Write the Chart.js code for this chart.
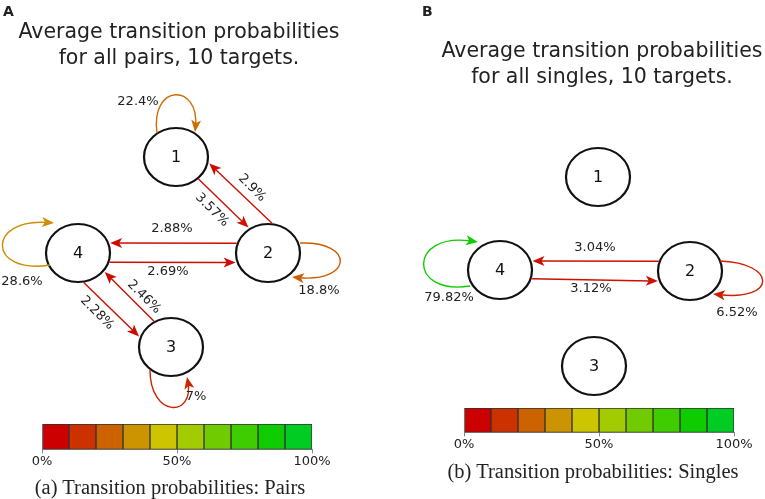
<!DOCTYPE html>
<html>
<head>
<meta charset="utf-8">
<script src="https://cdn.jsdelivr.net/npm/chart.js@4.4.1/dist/chart.umd.min.js"></script>
<style>
body { margin:0; background:#fff; }
#wrap { position:relative; width:765px; height:499px; overflow:hidden; font-family:"DejaVu Sans", sans-serif; color:#222; }
canvas, .txt { position:absolute; }
.tag { font-weight:bold; font-size:14px; line-height:14px; }
.title { font-size:20.5px; line-height:26px; text-align:center; }
.cap { font-family:"Liberation Serif", "DejaVu Serif", serif; font-size:20.5px; line-height:22px; text-align:center; }
</style>
</head>
<body>
<div id="wrap">
  <canvas id="graph" width="765" height="499" style="left:0;top:0"></canvas>
  <canvas id="barA" width="320" height="45" style="left:17px;top:424px"></canvas>
  <canvas id="barB" width="320" height="44" style="left:439px;top:408px"></canvas>
  <div class="txt tag" style="left:3px;top:4px">A</div>
  <div class="txt tag" style="left:422px;top:4px">B</div>
  <div class="txt title" style="left:0;top:18px;width:358px">Average transition probabilities<br>for all pairs, 10 targets.</div>
  <div class="txt title" style="left:422px;top:37px;width:360px">Average transition probabilities<br>for all singles, 10 targets.</div>
  <div class="txt cap" style="left:0;top:476px;width:340px">(a) Transition probabilities: Pairs</div>
  <div class="txt cap" style="left:423px;top:460px;width:340px">(b) Transition probabilities: Singles</div>
</div>
<script>
document.addEventListener('DOMContentLoaded', ()=> {

    // states
    var nodeNames = ['1', '2', '3', '4'];

    // pairs: transition from -> to, probability in %
    var pairsFrom = [1, 2, 1, 2, 4, 4, 2, 4, 3, 3];
    var pairsTo   = [1, 1, 2, 4, 2, 4, 2, 3, 4, 3];
    var pairsProb = [22.4, 2.9, 3.57, 2.88, 2.69, 28.6, 18.8, 2.28, 2.46, 7];

    // singles
    var singlesFrom = [2, 4, 4, 2];
    var singlesTo   = [4, 2, 4, 2];
    var singlesProb = [3.04, 3.12, 79.82, 6.52];

    // colour scale bins and ticks
    var binEdges = [0, 10, 20, 30, 40, 50, 60, 70, 80, 90, 100];
    var scaleTicks = [0, 50, 100];

    // layout: node centres in graph units (1 unit = 1px)
    var pairsNodes   = [[176,157],[268,253],[171,347],[78,253]];
    var singlesNodes = [[598,177],[690,271],[594,366],[500,270]];

    // edge geometry, same order as the data arrays
    // a: attach angles (deg) on source/target, loop: offsets of bezier points from node, lab: x, y, rotation
    var pairsGeom = [
        {loop:[[-19,-24],[-26,-74],[24,-74],[19,-25]], lab:[138,102,0]},
        {a:[277,12], lab:[252,188,45]},
        {a:[47,235], lab:[212,210,45]},
        {a:[199,341], lab:[172,229,0]},
        {a:[18,162], lab:[168,272,0]},
        {loop:[[-28,12],[-91,22],[-91,-35],[-24,-30]], lab:[22,282,0]},
        {loop:[[32,-10],[87,-12],[85,30],[24,24]], lab:[319,291,0]},
        {a:[80,200], lab:[97,313,45]},
        {a:[239,38], lab:[144,297,45]},
        {loop:[[-21,23],[-21,71],[24,71],[16,30]], lab:[196,397,0]}
    ];
    var singlesGeom = [
        {a:[199,343], lab:[595,248,0]},
        {a:[17,161], lab:[591,289,0]},
        {loop:[[-30,16],[-92,26],[-92,-38],[-22,-28]], lab:[449,298,0]},
        {loop:[[30,-10],[87,-8],[87,30],[23,23]], lab:[737,313,0]}
    ];

    // red -> green colour map (hsv, v = 0.8)
    function probColor(v){
        var h = 1.45 * v, c = 204, r, g, b = 0;
        if (h <= 60) { r = c; g = c * h / 60; }
        else if (h <= 120) { r = c * (120 - h) / 60; g = c; }
        else { r = 0; g = c; b = c * (h - 120) / 60; }
        return 'rgb(' + Math.round(r) + ',' + Math.round(g) + ',' + Math.round(b) + ')';
    }

    var RX = 32, RY = 29;

    // node marker: slightly wide ellipse
    function ellipseMarker(){
        var c = document.createElement('canvas');
        c.width = 70; c.height = 64;
        var g = c.getContext('2d');
        g.beginPath();
        g.ellipse(35, 32, RX, RY, 0, 0, 2 * Math.PI);
        g.fillStyle = '#fff';
        g.fill();
        g.lineWidth = 2.2;
        g.strokeStyle = '#111';
        g.stroke();
        return c;
    }

    function arrowHead(ctx, tip, dx, dy, color){
        var len = Math.hypot(dx, dy), ux = dx / len, uy = dy / len;
        var L = 12, W = 5;
        var bx = tip.x - ux * L, by = tip.y - uy * L;
        ctx.fillStyle = color;
        ctx.beginPath();
        ctx.moveTo(tip.x, tip.y);
        ctx.lineTo(bx - uy * W, by + ux * W);
        ctx.lineTo(tip.x - ux * L * 0.75, tip.y - uy * L * 0.75);
        ctx.lineTo(bx + uy * W, by - ux * W);
        ctx.closePath();
        ctx.fill();
    }

    function drawEdges(chart, dsIndex, from, to, prob, geom){
        var ctx = chart.ctx;
        var xs = chart.scales.x, ys = chart.scales.y;
        var pts = chart.getDatasetMeta(dsIndex).data;
        for (var i = 0; i < prob.length; i++) {
            var col = probColor(prob[i]);
            var s = pts[from[i] - 1], t = pts[to[i] - 1], gm = geom[i];
            ctx.strokeStyle = col;
            ctx.lineWidth = 1.4;
            if (gm.loop) {
                var p = gm.loop.map(function(o){ return {x: s.x + o[0], y: s.y + o[1]}; });
                ctx.beginPath();
                ctx.moveTo(p[0].x, p[0].y);
                ctx.bezierCurveTo(p[1].x, p[1].y, p[2].x, p[2].y, p[3].x - (p[3].x - p[2].x) * 0.1, p[3].y - (p[3].y - p[2].y) * 0.1);
                ctx.stroke();
                arrowHead(ctx, p[3], p[3].x - p[2].x, p[3].y - p[2].y, col);
            } else {
                var a0 = gm.a[0] * Math.PI / 180, a1 = gm.a[1] * Math.PI / 180;
                var p0 = {x: s.x + (RX + 1) * Math.cos(a0), y: s.y + (RY + 1) * Math.sin(a0)};
                var p1 = {x: t.x + (RX + 2) * Math.cos(a1), y: t.y + (RY + 2) * Math.sin(a1)};
                var dx = p1.x - p0.x, dy = p1.y - p0.y, len = Math.hypot(dx, dy);
                ctx.beginPath();
                ctx.moveTo(p0.x, p0.y);
                ctx.lineTo(p1.x - dx / len * 8, p1.y - dy / len * 8);
                ctx.stroke();
                arrowHead(ctx, p1, dx, dy, col);
            }
            // probability label
            ctx.save();
            ctx.translate(xs.getPixelForValue(gm.lab[0]), ys.getPixelForValue(gm.lab[1]));
            ctx.rotate(gm.lab[2] * Math.PI / 180);
            ctx.fillStyle = '#222';
            ctx.font = '13px "DejaVu Sans"';
            ctx.textAlign = 'center';
            ctx.textBaseline = 'middle';
            ctx.fillText(prob[i] + '%', 0, 0);
            ctx.restore();
        }
    }

    var graphPlugin = {
        id: 'graph',
        afterDatasetsDraw: function(chart){
            var ctx = chart.ctx;
            ctx.save();
            drawEdges(chart, 0, pairsFrom, pairsTo, pairsProb, pairsGeom);
            drawEdges(chart, 1, singlesFrom, singlesTo, singlesProb, singlesGeom);
            ctx.fillStyle = '#111';
            ctx.font = '16px "DejaVu Sans"';
            ctx.textAlign = 'center';
            ctx.textBaseline = 'middle';
            [0, 1].forEach(function(d){
                chart.getDatasetMeta(d).data.forEach(function(el, k){
                    ctx.fillText(nodeNames[k], el.x, el.y + 1);
                });
            });
            ctx.restore();
        }
    };

    var marker = ellipseMarker();

    function nodeSet(nodes){
        return {
            data: nodes.map(function(n){ return {x: n[0], y: n[1]}; }),
            pointStyle: marker,
            pointRadius: 32,
            showLine: false
        };
    }

    new Chart(document.getElementById('graph'), {
        type: 'scatter',
        data: { datasets: [nodeSet(pairsNodes), nodeSet(singlesNodes)] },
        options: {
            responsive: false,
            animation: false,
            events: [],
            layout: { padding: 0, autoPadding: false },
            plugins: { legend: { display: false }, tooltip: { enabled: false } },
            scales: {
                x: { display: false, min: 0, max: 765 },
                y: { display: false, min: 0, max: 499, reverse: true }
            }
        },
        plugins: [graphPlugin]
    });

    function colorbar(id){
        var sets = [];
        for (var i = 0; i < binEdges.length - 1; i++) {
            sets.push({
                data: [binEdges[i + 1] - binEdges[i]],
                backgroundColor: probColor(binEdges[i]),
                borderColor: '#333',
                borderWidth: 1,
                borderSkipped: false,
                barPercentage: 1,
                categoryPercentage: 1
            });
        }
        new Chart(document.getElementById(id), {
            type: 'bar',
            data: { labels: [''], datasets: sets },
            options: {
                indexAxis: 'y',
                responsive: false,
                animation: false,
                events: [],
                layout: { padding: { left: 25, right: 25, top: 0, bottom: 0 } },
                plugins: { legend: { display: false }, tooltip: { enabled: false } },
                scales: {
                    x: {
                        stacked: true, min: 0, max: 100,
                        afterBuildTicks: function(axis){ axis.ticks = scaleTicks.map(function(v){ return {value: v}; }); },
                        ticks: {
                            callback: function(v){ return v + '%'; },
                            color: '#222', padding: 0, maxRotation: 0,
                            font: { family: 'DejaVu Sans', size: 13 }
                        },
                        grid: { drawOnChartArea: false, tickLength: 4, color: '#888' },
                        border: { color: '#888' }
                    },
                    y: { stacked: true, display: false }
                }
            }
        });
    }

    colorbar('barA');
    colorbar('barB');

});
</script>
</body>
</html>
